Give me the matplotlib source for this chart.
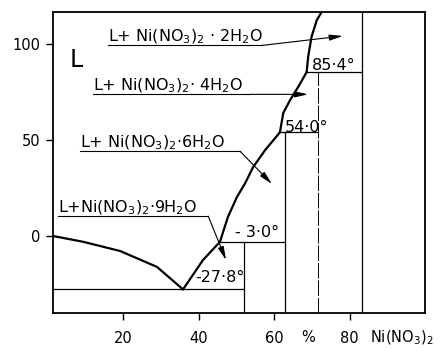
import numpy as np
import matplotlib.pyplot as plt

# liquidus branches (wt % Ni(NO3)2, temperature in C)
ice_x = [1.3, 9.3, 19.1, 28.9, 35.8]
ice_y = [0.0, -3.0, -7.8, -16.1, -27.8]
h9_x = [35.8, 41.1, 45.6]
h9_y = [-27.8, -12.5, -3.0]
h6_x = [45.6, 47.7, 50.1, 52.3, 54.4, 57.6, 61.5]
h6_y = [-3.0, 9.9, 20.3, 27.6, 35.9, 44.8, 54.0]
h4_x = [61.5, 62.4, 64.2, 66.4, 68.6]
h4_y = [54.0, 64.1, 70.8, 77.8, 85.4]
h2_x = [68.6, 69.0, 69.9, 71.3, 72.6]
h2_y = [85.4, 93.4, 103.8, 112.5, 116.8]

# hydrate compositions and invariant temperatures
hyd_comp = [51.9, 62.9, 71.5, 83.3]
inv_temp = [-27.8, -3.0, 54.0, 85.4]
inv_start = [1.3, 45.6, 61.5, 68.6]
inv_label = ["-27·8°", "- 3·0°", "54·0°", "85·4°"]

xmin, xmax = 1.3, 100
ymin, ymax = -40.1, 116.7

fig = plt.figure(figsize=(4.46, 3.54), dpi=100)
ax = fig.add_axes([53/446, 1 - 313/354, (425 - 53)/446, (313 - 12)/354])
ax.set_xlim(xmin, xmax)
ax.set_ylim(ymin, ymax)

for xs, ys in [(ice_x, ice_y), (h9_x, h9_y), (h6_x, h6_y), (h4_x, h4_y), (h2_x, h2_y)]:
    ax.plot(xs, ys, color='black', lw=1.6, solid_joinstyle='round', solid_capstyle='round')

# invariant horizontals
for x0, x1, t in zip(inv_start, hyd_comp, inv_temp):
    ax.plot([x0, x1], [t, t], color='black', lw=0.9)

# hydrate verticals
ax.plot([hyd_comp[0]] * 2, [ymin, inv_temp[1]], color='black', lw=0.9)
ax.plot([hyd_comp[1]] * 2, [ymin, inv_temp[2]], color='black', lw=0.9)
ax.plot([hyd_comp[2]] * 2, [ymin, inv_temp[3]], color='black', lw=0.7, ls=(0, (16, 2)))
ax.plot([hyd_comp[3]] * 2, [ymin, ymax], color='black', lw=0.9)

# temperature labels
lab_pos = [(39.0, -24.0), (49.6, -0.5), (62.9, 54.4), (70.0, 86.5)]
for (x, y), s in zip(lab_pos, inv_label):
    ax.text(x, y, s, fontsize=11.5, ha='left', va='baseline')

# field labels
ax.text(5.8, 88.0, "L", fontsize=17, ha='left', va='baseline')

fields = [
    (r"L+ Ni(NO$_3$)$_2$ · 2H$_2$O", (15.9, 101.5), (56.8, 99.3), (78.2, 104.2)),
    (r"L+ Ni(NO$_3$)$_2$· 4H$_2$O", (11.9, 76.0), (53.6, 73.8), (69.0, 73.8)),
    (r"L+ Ni(NO$_3$)$_2$·6H$_2$O", (8.5, 46.4), (50.9, 44.2), (59.4, 27.1)),
    (r"L+Ni(NO$_3$)$_2$·9H$_2$O", (2.65, 12.5), (42.5, 10.3), (47.2, -12.5)),
]
for s, (tx, ty), a0, a1 in fields:
    ax.text(tx, ty, s, fontsize=11.5, ha='left', va='baseline')
    ax.plot([tx, a0[0]], [a0[1], a0[1]], color='black', lw=0.8)
    ax.annotate("", xy=a1, xytext=a0,
                arrowprops=dict(arrowstyle="-|>,head_length=0.8,head_width=0.18",
                                color='black', lw=0.8, shrinkA=0, shrinkB=0))

ax.set_xticks([20, 40, 60, 80])
ax.set_yticks([0, 50, 100])
ax.set_xticklabels(["20", "40", "60", "80"])
ax.set_yticklabels(["0", "50", "100"])
ax.tick_params(direction='out', length=5, width=1.0, labelsize=10.5)
ax.tick_params(axis='x', pad=8)
ax.tick_params(axis='y', pad=4)
for sp in ax.spines.values():
    sp.set_linewidth(1.3)

ax.text(69.0, ymin - 15.1, "%", fontsize=10.5, ha='center', va='baseline')
ax.text(85.4, ymin - 15.1, r"Ni(NO$_3$)$_2$", fontsize=10.5, ha='left', va='baseline', clip_on=False)

fig.savefig("out.png", dpi=100)
